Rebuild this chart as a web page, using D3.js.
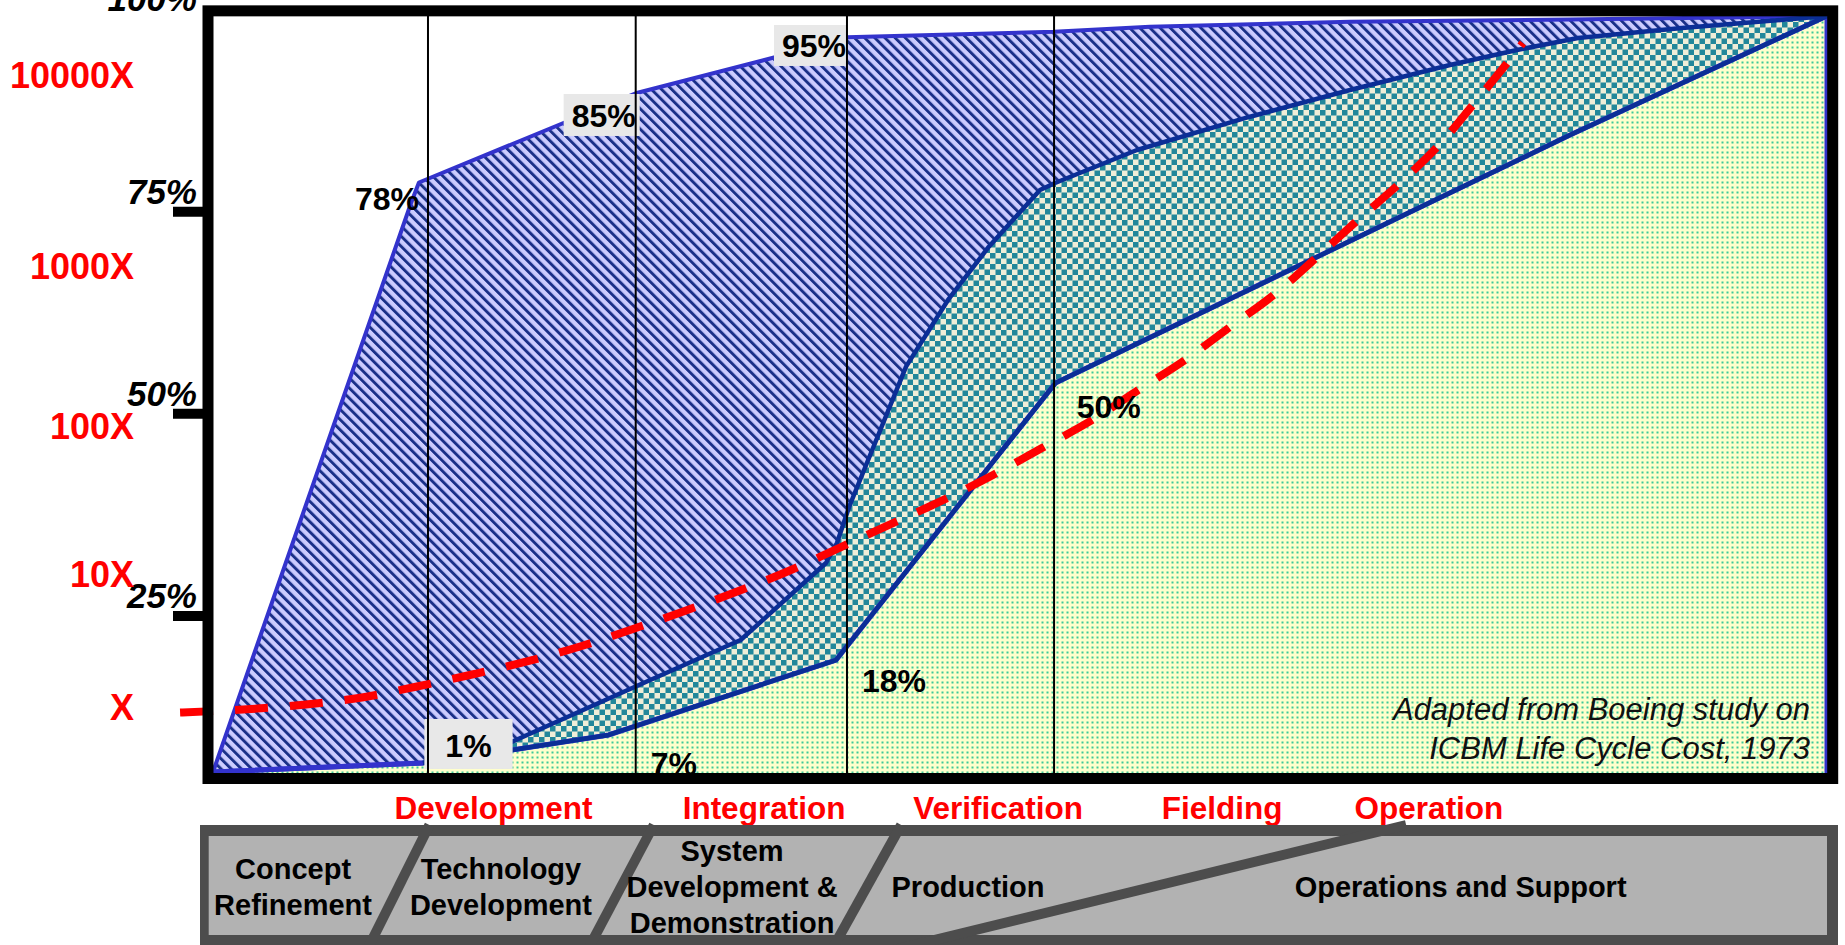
<!DOCTYPE html>
<html><head><meta charset="utf-8">
<script src="https://cdn.jsdelivr.net/npm/d3@7"></script>
<style>
html,body{margin:0;padding:0;background:#fff;overflow:hidden;}
svg{display:block;font-family:"Liberation Sans",Arial,sans-serif;}
</style></head>
<body><svg id="chart" width="1845" height="945"></svg>
<script>
// ---------------- DATA (x: % of timeline across frame, y: % on left axis) ----------------
const committedCost = [[0,5.69],[12.27,76.08],[12.76,78.61],[26.19,89.65],[34.94,94.17],[39.28,96.57],[52.11,97.27],[58.05,97.89],[70.45,98.50],[84.08,98.77],[100,99.21]];
const middleCurve = [[0,5.69],[13.01,6.80],[18.53,9.44],[26.15,16.24],[32.69,22.02],[37.98,31.54],[38.66,34.02],[39.41,38.47],[42.94,55.83],[45.54,64.08],[48.07,70.67],[51.24,77.68],[52.17,78.55],[57.25,82.63],[64.25,86.75],[70.45,90.05],[76.64,93.15],[80.79,95.0],[84.57,96.49],[91.01,97.72],[98.57,98.96],[100,99.21]];
const costIncurred = [[0,5.69],[13.01,6.80],[18.53,8.41],[24.51,10.27],[38.60,19.54],[52.20,53.81],[84.08,84.49],[100,99.21]];
const defectCost = [[-2.04,13.05],[2.35,13.48],[5.76,14.04],[9.23,14.91],[12.64,16.27],[16.05,17.75],[19.45,19.36],[22.74,21.21],[26.02,23.38],[29.31,25.67],[32.56,28.08],[35.81,30.68],[38.91,33.52],[42.13,36.49],[45.26,39.34],[48.33,42.43],[51.36,45.77],[54.58,49.36],[57.43,53.07],[60.22,56.65],[63.01,60.74],[65.80,64.82],[68.40,69.40],[71.00,74.10],[73.61,78.67],[76.08,83.50],[78.31,88.82],[80.48,94.14],[81.16,95.87]];
const milestoneT = [13.32, 26.19, 39.28, 52.11];
const yTicks = [25, 50, 75];
const yLabelValues = [25, 50, 75, 100];
const yLabelText = ["25%", "50%", "75%", "100%"];
const costFactorLabels = ["X", "10X", "100X", "1000X", "10000X"];
const costFactorLevels = [13.67, 30.12, 48.43, 68.22, 91.91];
const committedLabels = [{text:"78%", t:12.76, v:75.21}, {text:"85%", t:26.19, v:85.48}, {text:"95%", t:39.22, v:94.14}];
const incurredLabels = [{text:"1%", t:15.83, v:7.55}, {text:"7%", t:27.12, v:5.32}, {text:"18%", t:40.21, v:15.59}, {text:"50%", t:53.51, v:49.48}];
const phaseLabels = ["Development", "Integration", "Verification", "Fielding", "Operation"];
const phaseLabelT = [17.38, 34.14, 48.64, 62.52, 75.34];
const phaseBoxes = [["Concept","Refinement"], ["Technology","Development"], ["System","Development &","Demonstration"], ["Production"], ["Operations and Support"]];
const phaseBoxT = [4.96, 17.84, 32.16, 46.78, 77.3];
const phaseEdgeTop = [13.07, 26.95, 42.26];
const phaseEdgeBottom = [10.01, 23.70, 38.85];
const opsDiagonal = [71.13, 45.97]; // top, bottom
const noteLines = ["Adapted from Boeing study on", "ICBM Life Cycle Cost, 1973"];

// ---------------- LAYOUT ----------------
const svg = d3.select("#chart");
const x = d3.scaleLinear().domain([0,100]).range([213,1827]);
const y = d3.scaleLinear().domain([0,100]).range([818,9.6]);
const frame = {x0:208, x1:1832.7, y0:10.85, y1:778.5, w:11};
const bar = {x0:200, x1:1838, y0:825, y1:950, ix0:208.7, ix1:1827, iy0:836, iy1:935};
const boxPad = {"85%":[8,4,33,9], "95%":[8,2,32,9], "1%":[21,21,38,12]};
const anchorOf = {"78%":"end","85%":"end","95%":"end","1%":"middle","7%":"start","18%":"start","50%":"start"};

const defs = svg.append("defs");
const hatch = defs.append("pattern").attr("id","hatch").attr("patternUnits","userSpaceOnUse")
  .attr("width",7.2).attr("height",7.2).attr("patternTransform","rotate(-45)");
hatch.append("rect").attr("width",7.2).attr("height",7.2).attr("fill","#ccccff");
hatch.append("rect").attr("width",2.9).attr("height",7.2).attr("fill","#1a3088");
const chk = defs.append("pattern").attr("id","check").attr("patternUnits","userSpaceOnUse").attr("width",11).attr("height",11);
chk.append("rect").attr("width",11).attr("height",11).attr("fill","#efeed8");
chk.append("rect").attr("width",5.5).attr("height",5.5).attr("fill","#22879a");
chk.append("rect").attr("x",5.5).attr("y",5.5).attr("width",5.5).attr("height",5.5).attr("fill","#22879a");
const dots = defs.append("pattern").attr("id","dots").attr("patternUnits","userSpaceOnUse").attr("width",5).attr("height",5);
dots.append("rect").attr("width",5).attr("height",5).attr("fill","#ffffcc");
dots.append("rect").attr("x",1.5).attr("y",1.5).attr("width",2).attr("height",2).attr("fill","#3cca98");
defs.append("clipPath").attr("id","plotClip").append("rect")
  .attr("x",frame.x0).attr("y",frame.y0).attr("width",frame.x1-frame.x0).attr("height",frame.y1-frame.y0);

const area = d3.area().x(d=>x(d[0])).y0(y(0)).y1(d=>y(d[1]));
const line = d3.line().x(d=>x(d[0])).y(d=>y(d[1]));

const g = svg.append("g").attr("clip-path","url(#plotClip)");
g.append("path").datum(committedCost).attr("d",area).attr("fill","url(#hatch)")
  .attr("stroke","#3333cc").attr("stroke-width",4).attr("stroke-linejoin","round");
g.append("path").datum(middleCurve).attr("d",area).attr("fill","url(#check)");
g.append("path").datum(costIncurred).attr("d",area).attr("fill","url(#dots)")
  .attr("stroke","#3333cc").attr("stroke-width",5);
g.append("path").datum(middleCurve.filter(d=>d[0]<=13.01)).attr("d",line).attr("fill","none")
  .attr("stroke","#3333cc").attr("stroke-width",5);
g.append("path").datum(middleCurve.filter(d=>d[0]>=13)).attr("d",line).attr("fill","none")
  .attr("stroke","#0b2e96").attr("stroke-width",4.5).attr("stroke-linejoin","round");
g.append("path").datum(costIncurred.filter(d=>d[0]>=13)).attr("d",line).attr("fill","none")
  .attr("stroke","#0b2e96").attr("stroke-width",4.5).attr("stroke-linejoin","round");

// point labels with grey boxes
const labG = svg.append("g").attr("font-weight","bold").attr("font-size",32).attr("fill","#000");
const allLabels = committedLabels.concat(incurredLabels);
const labTexts = labG.selectAll("text").data(allLabels).join("text")
  .attr("x",d=>x(d.t)).attr("y",d=>y(d.v)).attr("text-anchor",d=>anchorOf[d.text]).text(d=>d.text);
const boxG = svg.insert("g", function(){ return labG.node(); });
labTexts.each(function(d){
  const p = boxPad[d.text]; if(!p) return;
  const bb = this.getBBox(); const base = y(d.v);
  boxG.append("rect").attr("x",bb.x-p[0]).attr("y",base-p[2]).attr("width",bb.width+p[0]+p[1]).attr("height",p[2]+p[3]).attr("fill","#e8e8e8");
});
const vl = svg.insert("g", function(){ return labG.node(); });
vl.selectAll("line").data(milestoneT).join("line")
  .attr("x1",d=>x(d)).attr("x2",d=>x(d)).attr("y1",frame.y0).attr("y2",frame.y1)
  .attr("stroke","#000").attr("stroke-width",2);
svg.insert("path", function(){ return labG.node(); }).datum(defectCost).attr("d",line.curve(d3.curveMonotoneX))
  .attr("fill","none").attr("stroke","#ff0000").attr("stroke-width",8).attr("stroke-dasharray","33 22");

// note
svg.append("g").attr("font-style","italic").attr("font-size",31).attr("fill","#111").attr("text-anchor","end")
  .selectAll("text").data(noteLines).join("text").attr("x",1810).attr("y",(d,i)=>720+i*39).text(d=>d);

// frame
svg.append("rect").attr("x",frame.x0).attr("y",frame.y0).attr("width",frame.x1-frame.x0).attr("height",frame.y1-frame.y0)
  .attr("fill","none").attr("stroke","#000").attr("stroke-width",frame.w);

// y ticks and labels
svg.append("g").selectAll("line").data(yTicks).join("line")
  .attr("x1",173).attr("x2",frame.x0).attr("y1",d=>y(d)).attr("y2",d=>y(d)).attr("stroke","#000").attr("stroke-width",10);
svg.append("g").attr("font-weight","bold").attr("font-style","italic").attr("font-size",35).attr("text-anchor","end")
  .selectAll("text").data(yLabelValues).join("text")
  .attr("x",197).attr("y",d=>Math.max(y(d)-8, frame.y0)).text((d,i)=>yLabelText[i]);
svg.append("g").attr("font-weight","bold").attr("font-size",36).attr("fill","#ff0000").attr("text-anchor","end")
  .selectAll("text").data(costFactorLevels).join("text")
  .attr("x",134).attr("y",d=>y(d)).attr("dy","0.36em").text((d,i)=>costFactorLabels[i]);

// phase labels
svg.append("g").attr("font-weight","bold").attr("font-size",31.5).attr("fill","#ff0000").attr("text-anchor","middle")
  .selectAll("text").data(phaseLabels).join("text").attr("x",(d,i)=>x(phaseLabelT[i])).attr("y",819).text(d=>d);

// phase bar
svg.append("rect").attr("x",bar.x0).attr("y",bar.y0).attr("width",bar.x1-bar.x0).attr("height",bar.y1-bar.y0).attr("fill","#4d4d4d");
svg.append("rect").attr("x",bar.ix0).attr("y",bar.iy0).attr("width",bar.ix1-bar.ix0).attr("height",bar.iy1-bar.iy0).attr("fill","#b2b2b2");
function sep(tTop, tBot, w){
  const xt = x(tTop), xb = x(tBot), h = bar.iy1-bar.iy0;
  const k = (xt-xb)/h;
  svg.append("line").attr("x1", xt + k*(bar.iy0-bar.y0)).attr("y1", bar.y0)
    .attr("x2", xb - k*(bar.y1-bar.iy1)).attr("y2", bar.y1)
    .attr("stroke","#4d4d4d").attr("stroke-width",w);
}
phaseEdgeTop.forEach((t,i)=>sep(t, phaseEdgeBottom[i], 10));
sep(opsDiagonal[0], opsDiagonal[1], 10);
const pb = svg.append("g").attr("font-weight","bold").attr("font-size",29).attr("fill","#000").attr("text-anchor","middle");
phaseBoxes.forEach((lines,i)=>{
  lines.forEach((s,j)=>{
    pb.append("text").attr("x",x(phaseBoxT[i])).attr("y",897+(j-(lines.length-1)/2)*36).text(s);
  });
});
</script>
</body></html>
